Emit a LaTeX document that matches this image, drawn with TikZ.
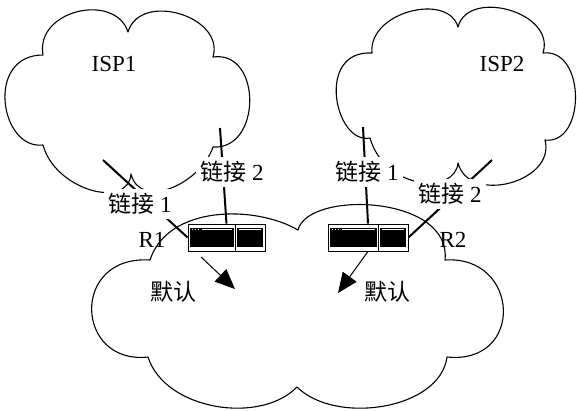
\documentclass[tikz,border=0pt]{standalone}
\usepackage{fontspec}
\setmainfont{Liberation Serif}
\newfontfamily\cjk{Noto Sans CJK SC}
\usetikzlibrary{arrows.meta,calc}

\begin{document}
\begin{tikzpicture}[x=1pt,y=-1pt,
  cloudline/.style={line width=1.1pt, line join=round},
  linkline/.style={line width=2pt},
  lbl/.style={inner sep=0pt, font=\fontsize{23}{26}\selectfont},
  linklbl/.style={lbl, fill=white, inner sep=4pt},
  defarrow/.style={line width=1pt, -{Triangle[length=20pt,width=17pt]}},
  router/.style={draw, line width=0.8pt, fill=white, minimum width=#1,
    minimum height=27pt, inner sep=0pt,
    path picture={
      \coordinate (pnw) at (path picture bounding box.north west);
      \coordinate (pse) at (path picture bounding box.south east);
      \coordinate (pne) at (pse |- pnw);
      \fill[black] ($(pnw)+(2,4)$) rectangle ($(pse)+(-31,-4.5)$);
      \fill[black] ($(pne)+(-28,4)$) rectangle ($(pse)+(-2,-4.5)$);
      \draw[line width=0.6pt] ($(pse)+(-29.5,0)$) -- ($(pne)+(-29.5,0)$);
      \draw[white, line width=0.4pt] ($(pnw)+(14,5.5)$) -- ($(pne)+(-33,5.5)$);
      \draw[white, line width=0.4pt] ($(pne)+(-26,5.5)$) -- ($(pne)+(-4,5.5)$);
      \fill[white] ($(pnw)+(4,5)$) rectangle +(1.2,1);
      \fill[white] ($(pnw)+(7,5)$) rectangle +(1.2,1);
      \fill[white] ($(pnw)+(10,5)$) rectangle +(1.2,1);
    }}
]
\useasboundingbox (0,0) rectangle (577,410);

% ISP1 cloud
\draw[cloudline] (43,55) .. controls (35,10) and (115,-8) .. (128,32)
  .. controls (140,-9) and (225,16) .. (213,57)
  .. controls (262,50) and (262,150) .. (213,147)
  .. controls (200,185) and (140,210) .. (131,174)
  .. controls (128,210) and (55,190) .. (43,145)
  .. controls (0,150) and (-15,55) .. cycle;

% ISP2 cloud
\draw[cloudline] (372,53) .. controls (368,12) and (448,-8) .. (458,27)
  .. controls (468,-12) and (556,12) .. (543,53)
  .. controls (586,48) and (586,145) .. (545,140)
  .. controls (556,182) and (469,205) .. (458,163)
  .. controls (455,195) and (385,190) .. (370,138)
  .. controls (335,145) and (315,50) .. cycle;

% local network cloud
\draw[cloudline] (150,260) .. controls (168,205) and (255,205) .. (298,230)
  .. controls (308,190) and (452,195) .. (445,260)
  .. controls (520,255) and (525,365) .. (447,357)
  .. controls (440,410) and (335,425) .. (297,387)
  .. controls (260,425) and (165,410) .. (148,357)
  .. controls (75,365) and (70,255) .. cycle;

% routers
\node[router=77pt] (r1) at (226.5,237.5) {};
\node[router=80pt] (r2) at (368,237.5) {};

% uplinks
\coordinate (a1) at (103,160);
\coordinate (b1) at (220,128);
\coordinate (a2) at (363,127);
\coordinate (b2) at (492,160);
\draw[linkline] (a1) -- (r1.west);
\draw[linkline] (b1) -- (r1.north);
\draw[linkline] (a2) -- (r2.north);
\draw[linkline] (b2) -- (r2.east);

% default routes
\coordinate (d1) at (201,257);
\coordinate (t1) at (235,289);
\coordinate (t2) at (338,293);
\draw[defarrow] (d1) -- (t1);
\draw[defarrow] (r2.south) -- (t2);

% labels
\node[lbl] (isp1) at (114,64) {ISP1};
\node[lbl] (isp2) at (502,64) {ISP2};
\node[linklbl] (l12) at (232,172) {{\cjk 链接} 2};
\node[linklbl] (l11) at (140,204) {{\cjk 链接} 1};
\node[linklbl] (l21) at (367,172) {{\cjk 链接} 1};
\node[linklbl] (l22) at (450,194) {{\cjk 链接} 2};
\node[lbl] (n1) at (152,240) {R1};
\node[lbl] (n2) at (453,240) {R2};
\node[lbl] (m1) at (173,292) {\cjk 默认};
\node[lbl] (m2) at (387,292) {\cjk 默认};
\end{tikzpicture}
\end{document}
